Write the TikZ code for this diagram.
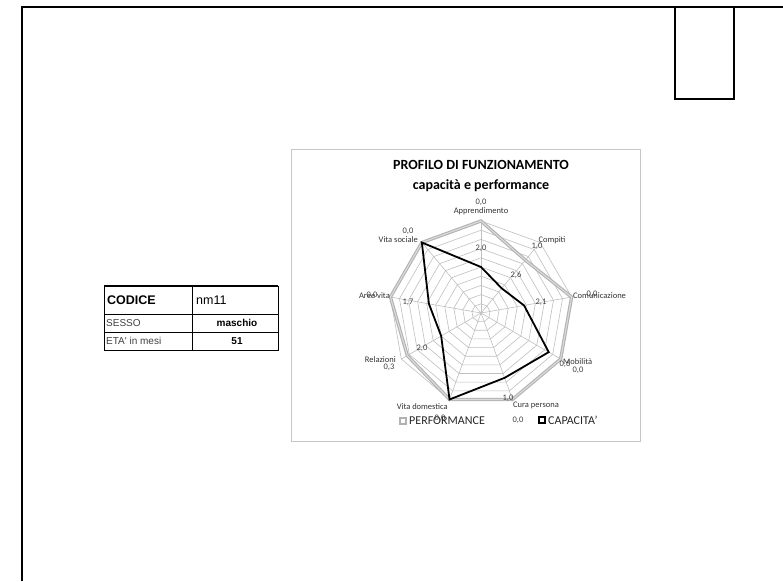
\documentclass[tikz,border=0pt]{standalone}
\usepackage{fontspec}
\setmainfont{Carlito}
\newfontfamily\arialfont{Liberation Sans}
\begin{document}
\begin{tikzpicture}[x=1pt,y=-1pt,
  pageframe/.style={line width=2pt,draw=black},
  gridline/.style={draw=gray!50,line width=0.6pt},
  perfline/.style={draw=gray!60,double=gray!28,double distance=1.1pt,line width=1.1pt,line join=miter},
  capaline/.style={draw=black,line width=1.8pt,line join=miter},
  axlab/.style={font=\fontsize{8.5}{9}\selectfont,text=black!80,inner sep=0pt},
  vallab/.style={font=\fontsize{8.5}{9}\selectfont,text=black!75,inner sep=0pt},
  titletext/.style={font=\bfseries\fontsize{14}{16}\selectfont,inner sep=0pt},
  legtext/.style={font=\fontsize{12}{13}\selectfont,text=black!85,inner sep=0pt,anchor=west},
  cellbig/.style={font=\arialfont\fontsize{12.5}{13}\selectfont,inner sep=0pt},
  cellsmall/.style={font=\arialfont\fontsize{10}{11}\selectfont,inner sep=0pt},
  cellbold/.style={font=\arialfont\bfseries\fontsize{10}{11}\selectfont,inner sep=0pt}]
\useasboundingbox (0,0) rectangle (783,581);

% page frame and the small box in the upper right corner
\draw[pageframe] (21.5,581) -- (21.5,6.5) -- (783,6.5);
\draw[line width=1.3pt] (675,6.5) rectangle (734,99);

% identification table
\draw[line width=0.9pt] (104,286) rectangle (278,350);
\draw[line width=0.6pt] (104,314) -- (278,314);
\draw[line width=0.6pt] (104,332) -- (278,332);
\draw[line width=0.6pt] (192,286) -- (192,350);
\draw[line width=1.2pt] (104,286) -- (278,286);
\node[cellbig,font=\arialfont\bfseries\fontsize{12.5}{13}\selectfont,anchor=west] (codice) at (107,300) {CODICE};
\node[cellbig,anchor=west] (nm) at (196,300) {nm11};
\node[cellsmall,anchor=west,text=black!75] (sesso) at (106,323) {SESSO};
\node[cellbold] (maschio) at (237,323) {maschio};
\node[cellsmall,anchor=west,text=black!75] (eta) at (106,341) {ETA' in mesi};
\node[cellbold] (mesi) at (237,341) {51};

% chart area
\draw[draw=gray!45,line width=0.8pt] (291,149) rectangle (640,441);
\node[titletext] (title1) at (481,165) {PROFILO DI FUNZIONAMENTO};
\node[titletext] (title2) at (481,186) {capacità e performance};

% radar grid: ten nonagon rings and nine spokes
\begin{scope}[shift={(481,313)},y=1pt]
  \foreach \k in {1,...,10}
    \draw[gridline] (90:\k*9.2) \foreach \i in {1,...,8} { -- (90-40*\i:\k*9.2) } -- cycle;
  \foreach \i in {0,...,8}
    \draw[gridline] (0,0) -- (90-40*\i:92);
  % performance series
  \coordinate (p1) at (90:92);
  \coordinate (p2) at (50:69);
  \coordinate (p3) at (10:92);
  \coordinate (p4) at (-30:92);
  \coordinate (p5) at (-70:92);
  \coordinate (p6) at (-110:92);
  \coordinate (p7) at (-150:85.1);
  \coordinate (p8) at (170:92);
  \coordinate (p9) at (130:92);
  % capacity series
  \coordinate (c1) at (90:46);
  \coordinate (c2) at (50:32.2);
  \coordinate (c3) at (10:43.7);
  \coordinate (c4) at (-30:78.2);
  \coordinate (c5) at (-70:69);
  \coordinate (c6) at (-110:92);
  \coordinate (c7) at (-150:46);
  \coordinate (c8) at (170:52.9);
  \coordinate (c9) at (130:92);
\end{scope}
\draw[perfline] (p1) -- (p2) -- (p3) -- (p4) -- (p5) -- (p6) -- (p7) -- (p8) -- (p9) -- cycle;
\draw[capaline] (c1) -- (c2) -- (c3) -- (c4) -- (c5) -- (c6) -- (c7) -- (c8) -- (c9) -- cycle;

% category labels
\node[axlab] (lApp) at (481,211) {Apprendimento};
\node[axlab] (lCom) at (552,240) {Compiti};
\node[axlab,anchor=west] (lComu) at (573,296) {Comunicazione};
\node[axlab,anchor=west] (lMob) at (563,362) {Mobilità};
\node[axlab,anchor=west] (lCura) at (513,405) {Cura persona};
\node[axlab,anchor=east] (lVd) at (448,407) {Vita domestica};
\node[axlab,anchor=east] (lRel) at (396,360) {Relazioni};
\node[axlab,anchor=east] (lAree) at (390,296) {Aree vita};
\node[axlab,anchor=east] (lVs) at (418,240) {Vita sociale};

% performance values
\node[vallab] (vp1) at (481,202) {0,0};
\node[vallab] (vp2) at (537,246) {1,0};
\node[vallab] (vp3) at (592,294) {0,0};
\node[vallab] (vp4) at (578,370) {0,0};
\node[vallab] (vp5) at (518,420) {0,0};
\node[vallab] (vp6) at (440,418) {0,0};
\node[vallab] (vp7) at (389,367) {0,3};
\node[vallab] (vp8) at (372,295) {0,0};
\node[vallab] (vp9) at (408,231) {0,0};

% capacity values
\node[vallab] (vc1) at (481,248) {2,0};
\node[vallab] (vc2) at (516,275) {2,6};
\node[vallab] (vc3) at (541,302) {2,1};
\node[vallab] (vc4) at (565,364) {0,6};
\node[vallab] (vc5) at (508,398) {1,0};
\node[vallab] (vc7) at (422,348) {2,0};
\node[vallab] (vc8) at (408,302) {1,7};

% legend
\draw[draw=gray!60,line width=1.6pt,fill=white] (400,418) rectangle (406,424);
\node[legtext] (legP) at (409,421) {PERFORMANCE};
\draw[draw=black,line width=1.8pt,fill=white] (539,417) rectangle (545,423);
\node[legtext] (legC) at (548,420) {CAPACITA'};
\end{tikzpicture}
\end{document}
